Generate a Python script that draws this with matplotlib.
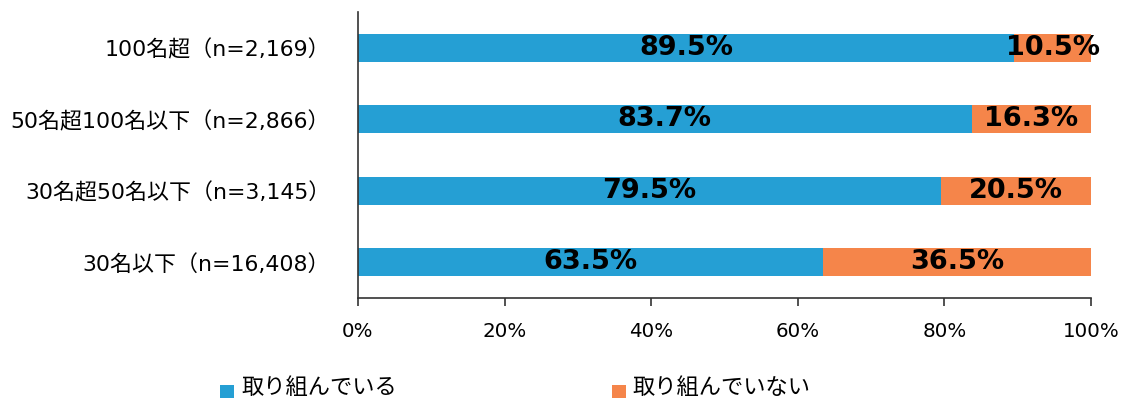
import matplotlib
matplotlib.use("Agg")
import matplotlib.pyplot as plt
from matplotlib.ticker import FuncFormatter
from matplotlib.patches import Rectangle

plt.rcParams['font.family'] = ['DejaVu Sans', 'Noto Sans CJK JP']

categories = ["100名超（n=2,169）", "50名超100名以下（n=2,866）",
              "30名超50名以下（n=3,145）", "30名以下（n=16,408）"]
doing = [89.5, 83.7, 79.5, 63.5]
not_doing = [10.5, 16.3, 20.5, 36.5]
series_names = ["取り組んでいる", "取り組んでいない"]
xticks = [0, 20, 40, 60, 80, 100]

blue = "#259FD4"
orange = "#F5854A"

W, H = 1124, 399
fig = plt.figure(figsize=(W/100, H/100), dpi=100)
ax = fig.add_axes([358/W, 101/H, (1091-358)/W, 286/H])

y = list(range(len(categories)))
h = 0.39
ax.barh(y, doing, height=h, color=blue, label=series_names[0])
ax.barh(y, not_doing, left=doing, height=h, color=orange, label=series_names[1])

for yi, d, n in zip(y, doing, not_doing):
    ax.text(d/2, yi, f"{d:.1f}%", ha='center', va='center', fontsize=19.5, fontweight='bold', color='black')
    ax.text(d + n/2, yi, f"{n:.1f}%", ha='center', va='center', fontsize=19.5, fontweight='bold', color='black')

ax.set_xlim(0, 100)
ax.set_ylim(3.5, -0.5)
ax.set_yticks(y)
ax.set_yticklabels(categories, fontsize=15.8)
ax.set_xticks(xticks)
ax.xaxis.set_major_formatter(FuncFormatter(lambda v, p: f"{int(v)}%"))
ax.tick_params(axis='x', labelsize=14.3, length=6, width=1.2, direction='out', pad=11, color='#333333')
ax.tick_params(axis='y', length=0, pad=20)
for s in ['top', 'right']:
    ax.spines[s].set_visible(False)
for s in ['left', 'bottom']:
    ax.spines[s].set_color('#333333')
    ax.spines[s].set_linewidth(1.2)

# legend
def legend_item(x_sq, x_txt, color, text):
    fig.patches.append(Rectangle((x_sq/W, 1 - 398/H), 14/W, 13/H, transform=fig.transFigure,
                                 facecolor=color, edgecolor='none'))
    fig.text(x_txt/W, 1 - 388/H, text, fontsize=16, va='center', ha='left')

legend_item(220, 241, blue, series_names[0])
legend_item(612, 632, orange, series_names[1])

fig.savefig("out.png", dpi=100)
